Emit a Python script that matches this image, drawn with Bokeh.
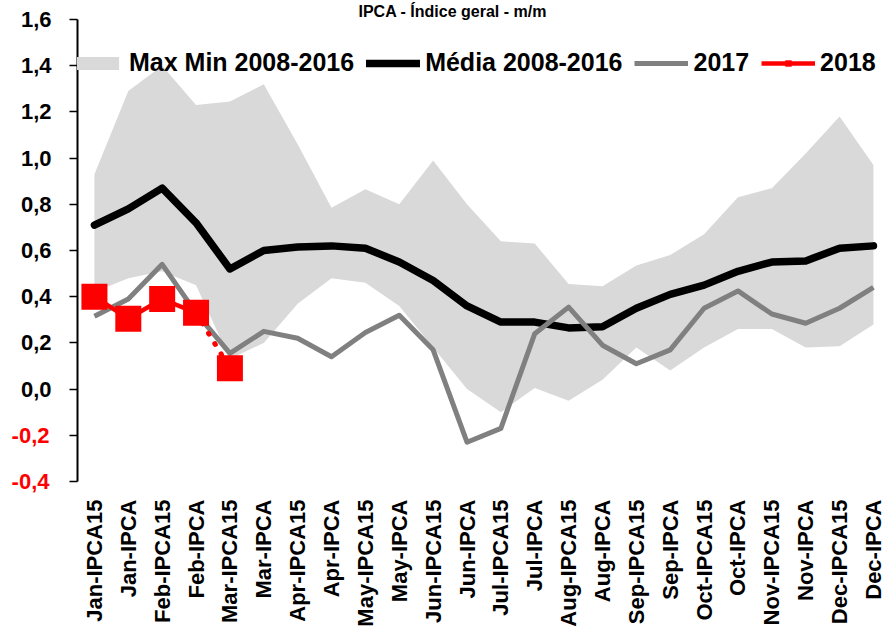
import math
from bokeh.plotting import figure
from bokeh.models import (ColumnDataSource, FixedTicker, Legend, LegendItem, Range1d,
                          LinearAxis, Title)
from bokeh.embed import file_html
from bokeh.resources import INLINE

categories = ["Jan-IPCA15", "Jan-IPCA", "Feb-IPCA15", "Feb-IPCA", "Mar-IPCA15", "Mar-IPCA",
              "Apr-IPCA15", "Apr-IPCA", "May-IPCA15", "May-IPCA", "Jun-IPCA15", "Jun-IPCA",
              "Jul-IPCA15", "Jul-IPCA", "Aug-IPCA15", "Aug-IPCA", "Sep-IPCA15", "Sep-IPCA",
              "Oct-IPCA15", "Oct-IPCA", "Nov-IPCA15", "Nov-IPCA", "Dec-IPCA15", "Dec-IPCA"]
band_max = [0.93, 1.29, 1.40, 1.23, 1.245, 1.32, 1.06, 0.785, 0.865, 0.80, 0.99, 0.80,
            0.64, 0.63, 0.455, 0.445, 0.535, 0.58, 0.67, 0.83, 0.87, 1.02, 1.18, 0.97]
band_min = [0.42, 0.48, 0.51, 0.45, 0.13, 0.20, 0.37, 0.48, 0.46, 0.36, 0.18, 0.00,
            -0.10, 0.005, -0.05, 0.04, 0.18, 0.08, 0.18, 0.26, 0.26, 0.18, 0.185, 0.28]
media = [0.71, 0.78, 0.87, 0.72, 0.52, 0.60, 0.615, 0.62, 0.61, 0.55, 0.47, 0.36,
         0.29, 0.29, 0.265, 0.27, 0.35, 0.41, 0.45, 0.51, 0.55, 0.555, 0.61, 0.62]
y2017 = [0.315, 0.39, 0.54, 0.33, 0.155, 0.25, 0.22, 0.14, 0.245, 0.32, 0.17, -0.23,
         -0.17, 0.24, 0.355, 0.19, 0.11, 0.17, 0.35, 0.425, 0.325, 0.285, 0.35, 0.44]
y2018 = [0.40, 0.305, 0.39, 0.33, 0.09]
n_solid_2018 = 4  # first four points solid, last segment dotted

y_ticks = [-0.4, -0.2, 0.0, 0.2, 0.4, 0.6, 0.8, 1.0, 1.2, 1.4, 1.6]
y_tick_labels = ["-0,4", "-0,2", "0,0", "0,2", "0,4", "0,6", "0,8", "1,0", "1,2", "1,4", "1,6"]
title_text = "IPCA - Índice geral - m/m"
legend_labels = ["Max Min 2008-2016", "Média 2008-2016", "2017", "2018"]

FONT = "Liberation Sans"
GRAY_BAND = "#D9D9D9"
GRAY_LINE = "#808080"
RED = "#FF0000"

x = list(range(len(categories)))
src = ColumnDataSource(dict(x=x, lo=band_min, hi=band_max, media=media, y2017=y2017))
x18 = x[:len(y2018)]
src18 = ColumnDataSource(dict(x=x18, y=y2018))
src18_solid = ColumnDataSource(dict(x=x18[:n_solid_2018], y=y2018[:n_solid_2018]))
src18_dot = ColumnDataSource(dict(x=x18[n_solid_2018 - 1:], y=y2018[n_solid_2018 - 1:]))

p = figure(width=887, height=632,
           x_range=Range1d(-0.5, 23.415), y_range=Range1d(-0.4, 1.6),
           output_backend="svg", toolbar_location=None,
           min_border_left=77, min_border_right=0, min_border_top=18, min_border_bottom=151)
p.outline_line_color = None
p.grid.visible = False

band = p.varea(x="x", y1="lo", y2="hi", source=src, fill_color=GRAY_BAND)
l_media = p.line(x="x", y="media", source=src, line_color="black", line_width=7.5,
                 line_join="round", line_cap="round")
l_2017 = p.line(x="x", y="y2017", source=src, line_color=GRAY_LINE, line_width=5,
                line_join="round")
l_2018 = p.line(x="x", y="y", source=src18_solid, line_color=RED, line_width=4.5, line_join="round")
p.line(x="x", y="y", source=src18_dot, line_color=RED, line_width=5, line_dash="1 11",
       line_cap="round")
s_2018 = p.scatter(x="x", y="y", source=src18, marker="square", size=26,
                   fill_color=RED, line_color=None)

# y axis: black labels for values >= 0
yax = p.yaxis[0]
yax.ticker = FixedTicker(ticks=y_ticks)
yax.major_label_overrides = {t: (lab if t >= 0 else "") for t, lab in zip(y_ticks, y_tick_labels)}
yax.major_label_text_font = FONT
yax.major_label_text_font_style = "bold"
yax.major_label_text_font_size = "22px"
yax.major_label_text_color = "black"
yax.major_label_standoff = 18
yax.major_tick_out = 8
yax.major_tick_in = 0
yax.major_tick_line_color = "black"
yax.major_tick_line_width = 1.5
yax.minor_tick_line_color = None
yax.axis_line_color = "black"
yax.axis_line_width = 2

# second left axis: red labels for negative values, pulled back under the first axis labels
yax_neg = LinearAxis(ticker=FixedTicker(ticks=y_ticks),
                     major_label_overrides={t: (lab if t < 0 else "")
                                            for t, lab in zip(y_ticks, y_tick_labels)},
                     major_label_text_font=FONT, major_label_text_font_style="bold",
                     major_label_text_font_size="22px", major_label_text_color=RED,
                     major_label_standoff=-32, major_tick_out=0, major_tick_in=0,
                     major_tick_line_color=None, minor_tick_line_color=None,
                     axis_line_color=None)
p.add_layout(yax_neg, "left")

# x axis
xax = p.xaxis[0]
xax.ticker = FixedTicker(ticks=x)
xax.major_label_overrides = {i: c for i, c in zip(x, categories)}
xax.major_label_orientation = math.pi / 2
xax.major_label_text_font = FONT
xax.major_label_text_font_style = "bold"
xax.major_label_text_font_size = "22px"
xax.major_label_text_color = "black"
xax.major_label_standoff = 12
xax.major_tick_line_color = None
xax.minor_tick_line_color = None
xax.axis_line_color = None

# title, kept small so it fits in the narrow top strip
p.add_layout(Title(text=title_text, align="left", offset=281, standoff=0,
                   text_font=FONT, text_font_style="bold", text_font_size="16px",
                   text_color="black"), "above")

legend = Legend(items=[
    LegendItem(label=legend_labels[0], renderers=[band]),
    LegendItem(label=legend_labels[1], renderers=[l_media]),
    LegendItem(label=legend_labels[2], renderers=[l_2017]),
    LegendItem(label=legend_labels[3], renderers=[l_2018, s_2018]),
], orientation="horizontal", location=(-7, 404))
legend.label_text_font = FONT
legend.label_text_font_style = "bold"
legend.label_text_font_size = "25px"
legend.label_text_color = "black"
legend.glyph_width = 54
legend.glyph_height = 16
legend.label_standoff = 5
legend.spacing = 12
legend.padding = 0
legend.margin = 0
legend.border_line_color = None
legend.background_fill_alpha = 0
p.add_layout(legend)

open("out.html", "w").write(file_html(p, INLINE))
